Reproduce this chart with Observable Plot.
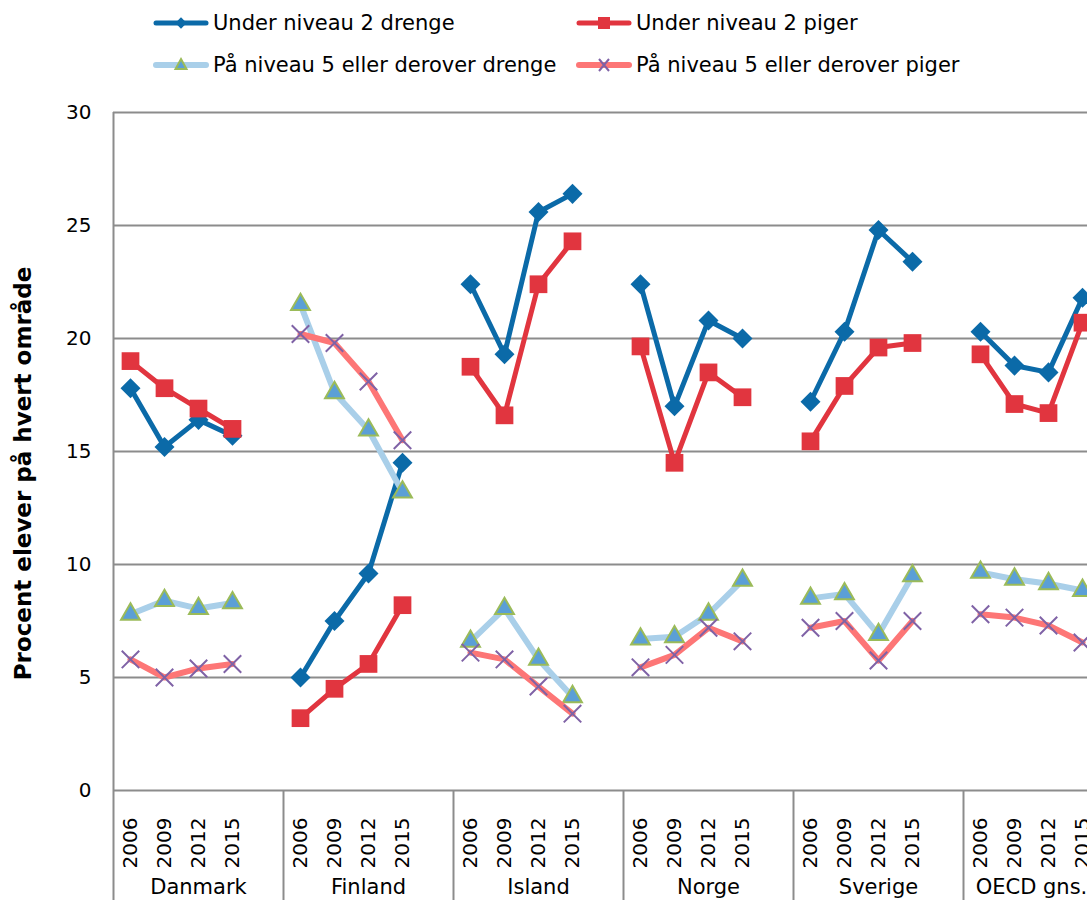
<!DOCTYPE html>
<html>
<head>
<meta charset="utf-8">
<script src="https://cdn.jsdelivr.net/npm/d3@7"></script>
<script src="https://cdn.jsdelivr.net/npm/@observablehq/plot@0.6"></script>
<style>
  html, body { margin: 0; padding: 0; background: #fff; }
  body { width: 1087px; height: 900px; overflow: hidden; font-family: "DejaVu Sans", Verdana, sans-serif; }
  #legend { position: relative; width: 1087px; height: 90px; }
  .item { position: absolute; display: flex; align-items: center; height: 30px; font-size: 21px; color: #000; white-space: nowrap; }
  .item svg { margin-right: 4px; display: block; }
  #chart svg { display: block; }
</style>
</head>
<body>
<div id="legend"></div>
<div id="chart"></div>
<script>
// ---------- data ----------
const countries = ["Danmark", "Finland", "Island", "Norge", "Sverige", "OECD gns."];
const years = ["2006", "2009", "2012", "2015"];
const yTicks = [0, 5, 10, 15, 20, 25, 30];

// values per country (rows), per year (columns)
const under2Drenge = [
  [17.8, 15.2, 16.4, 15.7],
  [5.0, 7.5, 9.6, 14.5],
  [22.4, 19.3, 25.6, 26.4],
  [22.4, 17.0, 20.8, 20.0],
  [17.2, 20.3, 24.8, 23.4],
  [20.3, 18.8, 18.5, 21.8]
];
const under2Piger = [
  [19.0, 17.8, 16.9, 16.0],
  [3.2, 4.5, 5.6, 8.2],
  [18.75, 16.6, 22.4, 24.3],
  [19.65, 14.5, 18.5, 17.4],
  [15.45, 17.9, 19.6, 19.8],
  [19.3, 17.1, 16.7, 20.7]
];
const niveau5Drenge = [
  [7.8, 8.4, 8.05, 8.3],
  [21.5, 17.6, 15.95, 13.2],
  [6.6, 8.05, 5.8, 4.15],
  [6.7, 6.8, 7.8, 9.3],
  [8.5, 8.7, 6.9, 9.5],
  [9.65, 9.35, 9.15, 8.85]
];
const niveau5Piger = [
  [5.8, 5.0, 5.4, 5.6],
  [20.2, 19.8, 18.1, 15.5],
  [6.1, 5.8, 4.6, 3.4],
  [5.45, 6.0, 7.2, 6.6],
  [7.2, 7.5, 5.75, 7.5],
  [7.8, 7.65, 7.3, 6.55]
];
const seriesNames = [
  "Under niveau 2 drenge",
  "Under niveau 2 piger",
  "På niveau 5 eller derover drenge",
  "På niveau 5 eller derover piger"
];

// ---------- styles ----------
const BLUE = "#0b6aa8", RED = "#e1353f", LBLUE = "#a9cfe9", PINK = "#fd7676";
const TRI_FILL = "#5b9fd6", TRI_STROKE = "#9bbb59", X_STROKE = "#7f62a6";
const GRID = "#8c8c8c";

// ---------- build table ----------
const seriesValues = [under2Drenge, under2Piger, niveau5Drenge, niveau5Piger];
const slotsPerGroup = years.length + 1; // one empty slot between countries
const rows = [];
seriesValues.forEach((vals, si) => {
  countries.forEach((c, ci) => {
    years.forEach((y, yi) => {
      rows.push({series: seriesNames[si], country: c, year: y, slot: ci * slotsPerGroup + yi, value: vals[ci][yi]});
    });
  });
});
const bySeries = name => rows.filter(d => d.series === name);

const yearLabels = [];
countries.forEach((c, ci) => years.forEach((y, yi) => yearLabels.push({slot: ci * slotsPerGroup + yi, year: y})));
const lastGroup = countries.length - 1;
const countryLabels = countries.map((c, ci) => {
  const start = ci * slotsPerGroup - 0.5;
  const end = ci === lastGroup ? ci * slotsPerGroup + years.length - 0.5 : (ci + 1) * slotsPerGroup - 0.5;
  return {name: c, center: (start + end) / 2};
});
const separators = countries.map((c, ci) => ci * slotsPerGroup - 0.5);
const xMax = lastGroup * slotsPerGroup + years.length - 0.5;

// ---------- legend ----------
const legendItems = [
  {name: seriesNames[0], color: BLUE, w: 5, marker: `<rect x="-4" y="-4" width="8" height="8" fill="${BLUE}" transform="rotate(45)"/>`, left: 153, top: 8},
  {name: seriesNames[1], color: RED, w: 5, marker: `<rect x="-6" y="-6" width="12" height="12" fill="${RED}"/>`, left: 576, top: 8},
  {name: seriesNames[2], color: LBLUE, w: 6, marker: `<path d="M0,-6L5.5,4L-5.5,4Z" fill="${TRI_FILL}" stroke="${TRI_STROKE}" stroke-width="2"/>`, left: 153, top: 50},
  {name: seriesNames[3], color: PINK, w: 6, marker: `<path d="M-5,-6L5,6M-5,6L5,-6" stroke="${X_STROKE}" stroke-width="2"/>`, left: 576, top: 50}
];
const legend = document.getElementById("legend");
legendItems.forEach(it => {
  const div = document.createElement("div");
  div.className = "item";
  div.style.left = it.left + "px";
  div.style.top = it.top + "px";
  div.innerHTML = `<svg width="56" height="30" viewBox="0 0 56 30"><line x1="3" y1="15" x2="53" y2="15" stroke="${it.color}" stroke-width="${it.w}" stroke-linecap="round"/><g transform="translate(28,15)">${it.marker}</g></svg><span>${it.name}</span>`;
  legend.appendChild(div);
});

// ---------- chart ----------
const chart = Plot.plot({
  width: 1087,
  height: 810,
  marginTop: 22,
  marginBottom: 110,
  marginLeft: 113,
  marginRight: 0,
  style: {fontFamily: "DejaVu Sans, Verdana, sans-serif", background: "transparent", overflow: "visible", color: "#000"},
  x: {domain: [-0.5, xMax], range: [113, 1099], axis: null},
  y: {domain: [0, 30], range: [700, 22], axis: null},
  marks: [
    Plot.ruleY(yTicks, {y: d => d, stroke: GRID, strokeWidth: 2}),
    Plot.ruleX([separators[0]], {x: d => d, y1: 30, y2: -5, stroke: GRID, strokeWidth: 2}),
    Plot.ruleX(separators.slice(1), {x: d => d, y1: 0, y2: -5, stroke: GRID, strokeWidth: 2}),
    Plot.text(yTicks, {y: d => d, text: d => String(d), frameAnchor: "left", textAnchor: "end", lineAnchor: "middle", dx: -22, fontSize: 20, fill: "#000"}),
    Plot.text(["Procent elever på hvert område"], {frameAnchor: "left", text: d => d, rotate: -90, textAnchor: "middle", lineAnchor: "middle", dx: -90, dy: 22, fontSize: 23, fontWeight: "bold", fill: "#000"}),
    Plot.text(yearLabels, {x: "slot", text: "year", frameAnchor: "bottom", rotate: -90, textAnchor: "end", lineAnchor: "middle", dy: 27, fontSize: 20, fill: "#000"}),
    Plot.text(countryLabels, {x: "center", text: "name", frameAnchor: "bottom", lineAnchor: "middle", dy: 97, fontSize: 21, fill: "#000"}),

    Plot.line(bySeries(seriesNames[0]), {x: "slot", y: "value", z: "country", stroke: BLUE, strokeWidth: 5, strokeLinejoin: "round", strokeLinecap: "round"}),
    Plot.dot(bySeries(seriesNames[0]), {x: "slot", y: "value", symbol: "square", rotate: 45, r: 8, fill: BLUE}),

    Plot.line(bySeries(seriesNames[1]), {x: "slot", y: "value", z: "country", stroke: RED, strokeWidth: 5, strokeLinejoin: "round", strokeLinecap: "round"}),
    Plot.dot(bySeries(seriesNames[1]), {x: "slot", y: "value", symbol: "square", r: 10, fill: RED}),

    Plot.line(bySeries(seriesNames[2]), {x: "slot", y: "value", z: "country", stroke: LBLUE, strokeWidth: 6, strokeLinejoin: "round", strokeLinecap: "round"}),
    Plot.dot(bySeries(seriesNames[2]), {x: "slot", y: "value", symbol: "triangle", r: 7, fill: TRI_FILL, stroke: TRI_STROKE, strokeWidth: 2}),

    Plot.line(bySeries(seriesNames[3]), {x: "slot", y: "value", z: "country", stroke: PINK, strokeWidth: 6, strokeLinejoin: "round", strokeLinecap: "round"}),
    Plot.dot(bySeries(seriesNames[3]), {x: "slot", y: "value", symbol: "times", r: 8, stroke: X_STROKE, strokeWidth: 2})
  ]
});
document.getElementById("chart").appendChild(chart);
</script>
</body>
</html>
